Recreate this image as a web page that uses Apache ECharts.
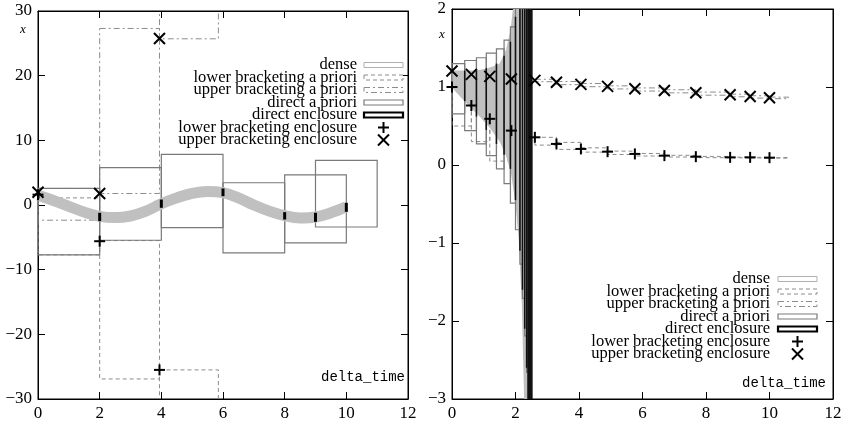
<!DOCTYPE html>
<html><head><meta charset="utf-8">
<script src="https://cdn.jsdelivr.net/npm/echarts@6/dist/echarts.min.js"></script>
<style>html,body{margin:0;padding:0;background:#fff}#c{width:846px;height:422px}</style>
</head><body><div id="c"></div>
<script>
// ================= DATA =================
const xTickMin = 0, xTickMax = 12, xTickStep = 2;
const leftYMin = -30, leftYMax = 30, leftYStep = 10;
const rightYMin = -3, rightYMax = 2, rightYStep = 1;
const legendNames = ['dense','lower bracketing a priori','upper bracketing a priori','direct a priori','direct enclosure','lower bracketing enclosure','upper bracketing enclosure'];
const axisName = 'x';
const timeName = 'delta_time';

// ---- left panel ----
const L_denseT = [0,0.5,1,1.5,2,2.5,3,3.5,4,4.5,5,5.5,6,6.5,7,7.5,8,8.5,9,9.5,10];
const L_denseX = [1.5,0.7,-0.2,-1.1,-1.75,-1.95,-1.7,-0.95,0.2,1.1,1.8,2.1,1.9,1.1,0.0,-0.95,-1.65,-2.0,-1.85,-1.2,-0.3];
// [t0, t1, low, high]
const L_directAP = [[0,2,-7.7,2.56],[2,4,-5.45,5.77],[4,6,-3.5,7.83],[6,8,-7.4,3.44],[8,10,-5.87,4.65],[9,11,-3.4,6.9]];
const L_lowerAP = [[0,2,-7.7,1.1],[2,3.94,-26.9,-5.5],[3.94,5.85,-40,-25.5]];
const L_upperAP = [[0,2,-2.35,2.56],[2,3.94,1.78,27.3],[3.94,5.85,25.7,40]];
const L_directEnc = [[0,0,1.0,2.0],[2,2,-2.5,-1.2],[4,4,-0.43,0.85],[6,6,1.36,2.56],[8,8,-2.25,-1.1],[9,9,-2.6,-1.2],[10,10,-1.05,0.34]];
const L_bracketT = [0,2,3.94];
const L_lowerEnc = [1.6,-5.6,-25.5];
const L_upperEnc = [1.98,1.78,25.75];

// ---- right panel ----
const R_denseT  = [0,0.3,0.6,0.9,1.2,1.5,1.7,1.85,2.0,2.1,2.2,2.3,2.4];
const R_denseLo = [0.99,0.86,0.73,0.61,0.47,0.3,0.12,-0.08,-0.5,-0.95,-1.8,-3.5,-3.5];
const R_denseHi = [1.21,1.21,1.21,1.22,1.25,1.3,1.47,1.75,2.3,2.6,3,3.5,3.5];
const R_directAP = [[0,0.4,0.655,1.30],[0.4,0.77,0.44,1.34],[0.77,1.08,0.27,1.375],[1.08,1.4,0.12,1.435],[1.4,1.64,-0.05,1.49],[1.64,1.84,-0.24,1.6],[1.84,2.0,-0.49,1.77],[2.0,2.14,-0.83,2.3],[2.14,2.22,-1.27,2.6],[2.22,2.29,-1.71,3],[2.29,2.35,-2.19,3.4],[2.35,2.37,-2.66,3.8]];
const R_directEnc = [[0.4,0.4,0.82,1.21],[0.77,0.77,0.62,1.21],[1.08,1.08,0.45,1.24],[1.4,1.4,0.27,1.3],[1.64,1.64,0.13,1.4],[1.84,1.84,-0.05,1.58],[2.0,2.0,-0.45,1.9],[2.14,2.14,-1.1,2.5],[2.22,2.22,-1.6,2.5],[2.29,2.29,-2.1,2.5],[2.35,2.35,-2.6,2.5],[2.37,2.54,-3.5,2.5]];
const R_lowerAP = [[0,0.61,0.5,0.98],[0.61,1.19,0.3,0.75],[1.19,1.87,0.05,0.58],[2.61,3.29,0.255,0.355],[3.29,4.06,0.2,0.29],[4.06,4.9,0.165,0.22],[4.9,5.76,0.135,0.178],[5.76,6.69,0.115,0.148],[6.69,7.68,0.102,0.124],[7.68,8.76,0.094,0.11],[8.76,9.39,0.092,0.1],[9.39,10.0,0.09,0.098],[10.0,10.6,0.088,0.095]];
const R_upperAP = [[2.61,3.29,1.068,1.099],[3.29,4.06,1.03,1.07],[4.06,4.9,1.004,1.045],[4.9,5.76,0.975,1.015],[5.76,6.69,0.948,0.988],[6.69,7.68,0.925,0.965],[7.68,8.76,0.895,0.935],[8.76,9.39,0.875,0.908],[9.39,10.0,0.858,0.888],[10.0,10.6,0.85,0.87]];
const R_bracketT = [0,0.61,1.19,1.87,2.61,3.29,4.06,4.90,5.76,6.69,7.68,8.76,9.39,10.0];
const R_upperEnc = [1.205,1.162,1.136,1.102,1.085,1.06,1.034,1.008,0.978,0.956,0.927,0.9,0.879,0.862];
const R_lowerEnc = [1.0,0.763,0.592,0.441,0.355,0.27,0.206,0.171,0.142,0.12,0.107,0.098,0.098,0.094];

// ================= STYLE =================
const SERIF = 'Liberation Serif';
const C_BOX = '#7a7a7a', C_AP = '#8c8c8c', C_DENSE = '#c0c0c0';
const DASH = [4,3], DASHDOT = [6,3,2,3];

const chart = echarts.init(document.getElementById('c'), null, {renderer:'canvas'});
const grids = [
  {left:38, top:11, width:370, height:388, show:true, borderColor:'#000', borderWidth:1, backgroundColor:'#fff'},
  {left:452, top:9, width:381, height:390, show:true, borderColor:'#000', borderWidth:1, backgroundColor:'#fff'}
];
const fmt = v => v < 0 ? '\u2212' + Math.abs(v) : String(v);
function xAx(gi, pos, show){
  return {type:'value', gridIndex:gi, min:xTickMin, max:xTickMax, interval:xTickStep, position:pos,
    axisLine:{show:true, onZero:false, lineStyle:{color:'#000', width:1}}, splitLine:{show:false},
    axisTick:{show:true, inside:true, length:7, lineStyle:{color:'#000'}},
    axisLabel:{show:show, color:'#000', fontFamily:SERIF, fontSize:17, margin:6, formatter:fmt}};
}
function yAx(gi, pos, show, mn, mx, st){
  return {type:'value', gridIndex:gi, min:mn, max:mx, interval:st, position:pos,
    axisLine:{show:true, onZero:false, lineStyle:{color:'#000', width:1}}, splitLine:{show:false},
    axisTick:{show:true, inside:true, length:7, lineStyle:{color:'#000'}},
    axisLabel:{show:show, color:'#000', fontFamily:SERIF, fontSize:17, margin:6, formatter:fmt}};
}
const xAxes = [xAx(0,'bottom',true), xAx(0,'top',false), xAx(1,'bottom',true), xAx(1,'top',false)];
const yAxes = [yAx(0,'left',true,leftYMin,leftYMax,leftYStep), yAx(0,'right',false,leftYMin,leftYMax,leftYStep),
               yAx(1,'left',true,rightYMin,rightYMax,rightYStep), yAx(1,'right',false,rightYMin,rightYMax,rightYStep)];

function boxSeries(panel, data, style, z){
  return {type:'custom', xAxisIndex:panel*2, yAxisIndex:panel*2, clip:true, z:z, silent:true,
    data:data,
    renderItem(params, api){
      const p0 = api.coord([api.value(0), api.value(3)]);
      const p1 = api.coord([api.value(1), api.value(2)]);
      return {type:'rect', shape:{x:p0[0], y:p0[1], width:p1[0]-p0[0], height:p1[1]-p0[1]},
        style:Object.assign({fill:'none'}, style)};
    }};
}
function encSeries(panel, data, z){
  return {type:'custom', xAxisIndex:panel*2, yAxisIndex:panel*2, clip:true, z:z, silent:true,
    data:data,
    renderItem(params, api){
      const p0 = api.coord([api.value(0), api.value(3)]);
      const p1 = api.coord([api.value(1), api.value(2)]);
      let x = p0[0], w = p1[0]-p0[0];
      if (w < 3){ x = (p0[0]+p1[0])/2 - 1.5; w = 3; }
      return {type:'rect', shape:{x:x, y:p0[1], width:w, height:p1[1]-p0[1]}, style:{fill:'#000'}};
    }};
}
function markerSeries(panel, ts, ys, kind, z){
  return {type:'custom', xAxisIndex:panel*2, yAxisIndex:panel*2, clip:false, z:z, silent:true,
    data:ts.map((t,i)=>[t, ys[i]]),
    renderItem(params, api){
      const p = api.coord([api.value(0), api.value(1)]);
      const s = 5.5, st = {stroke:'#000', lineWidth:2};
      const lines = kind === 'x'
        ? [[p[0]-s,p[1]-s,p[0]+s,p[1]+s],[p[0]-s,p[1]+s,p[0]+s,p[1]-s]]
        : [[p[0]-s,p[1],p[0]+s,p[1]],[p[0],p[1]-s,p[0],p[1]+s]];
      return {type:'group', children:lines.map(l=>({type:'line', shape:{x1:l[0],y1:l[1],x2:l[2],y2:l[3]}, style:st}))};
    }};
}
function densePoly(panel, ts, lo, hi, z){
  return {type:'custom', xAxisIndex:panel*2, yAxisIndex:panel*2, clip:true, z:z, silent:true,
    data:[[ts[0], lo[0]]],
    renderItem(params, api){
      const pts = [];
      for (let i=0;i<ts.length;i++) pts.push(api.coord([ts[i], hi[i]]));
      for (let i=ts.length-1;i>=0;i--) pts.push(api.coord([ts[i], lo[i]]));
      return {type:'polygon', shape:{points:pts}, style:{fill:C_DENSE, stroke:'none'}};
    }};
}

const series = [
  // left
  boxSeries(0, L_lowerAP, {stroke:C_AP, lineWidth:1, lineDash:DASH}, 2),
  boxSeries(0, L_upperAP, {stroke:C_AP, lineWidth:1, lineDash:DASHDOT}, 2),
  boxSeries(0, L_directAP, {stroke:C_BOX, lineWidth:1.2}, 3),
  {type:'line', xAxisIndex:0, yAxisIndex:0, data:L_denseT.map((t,i)=>[t, L_denseX[i]]), smooth:0.4,
   symbol:'none', lineStyle:{color:C_DENSE, width:11, cap:'butt'}, z:4, silent:true, clip:true},
  encSeries(0, L_directEnc, 5),
  markerSeries(0, L_bracketT, L_lowerEnc, '+', 6),
  markerSeries(0, L_bracketT, L_upperEnc, 'x', 6),
  // right
  boxSeries(1, R_lowerAP, {stroke:C_AP, lineWidth:1, lineDash:DASH}, 2),
  boxSeries(1, R_upperAP, {stroke:C_AP, lineWidth:1, lineDash:DASHDOT}, 2),
  densePoly(1, R_denseT, R_denseLo, R_denseHi, 3),
  boxSeries(1, R_directAP, {stroke:C_BOX, lineWidth:1.2}, 4),
  {type:'custom', xAxisIndex:2, yAxisIndex:2, clip:true, z:5, silent:true, data:R_directEnc,
   renderItem(params, api){
     const p0 = api.coord([api.value(0), api.value(3)]);
     const p1 = api.coord([api.value(1), api.value(2)]);
     let x = p0[0], w = p1[0]-p0[0];
     if (w < 1.5){ x = (p0[0]+p1[0])/2 - 0.75; w = 1.5; }
     return {type:'rect', shape:{x:x, y:p0[1], width:w, height:p1[1]-p0[1]}, style:{fill:'#111'}};
   }},
  markerSeries(1, R_bracketT, R_lowerEnc, '+', 6),
  markerSeries(1, R_bracketT, R_upperEnc, 'x', 6)
];

// ---- legend & labels as graphic text ----
function legendGraphic(textRight, top, sx0, sx1){
  const els = [];
  const styles = [
    {stroke:'#b0b0b0', lineWidth:1},
    {stroke:C_AP, lineWidth:1, lineDash:DASH},
    {stroke:C_AP, lineWidth:1, lineDash:DASHDOT},
    {stroke:C_BOX, lineWidth:1.2},
    {stroke:'#000', lineWidth:2.2}
  ];
  legendNames.forEach((name, i) => {
    const cy = top + i*12.5;
    els.push({type:'text', x:textRight, y:cy, z:50, style:{text:name, fill:'#000', font:'16.5px "Liberation Serif"', textAlign:'right', textVerticalAlign:'middle'}});
    if (i < 5){
      els.push({type:'rect', z:50, shape:{x:sx0, y:cy-2.5, width:sx1-sx0, height:5}, style:Object.assign({fill:'#fff'}, styles[i])});
    } else {
      const cx = (sx0+sx1)/2, s = 5.5;
      const lines = i === 5 ? [[cx-s,cy,cx+s,cy],[cx,cy-s,cx,cy+s]] : [[cx-s,cy-s,cx+s,cy+s],[cx-s,cy+s,cx+s,cy-s]];
      lines.forEach(l => els.push({type:'line', z:50, shape:{x1:l[0],y1:l[1],x2:l[2],y2:l[3]}, style:{stroke:'#000', lineWidth:2}}));
    }
  });
  return els;
}
const graphic = [].concat(
  legendGraphic(357, 65, 364, 403),
  legendGraphic(770, 279, 778, 817),
  [
    {type:'text', x:23, y:30, z:50, style:{text:axisName, fill:'#000', font:'italic 13px "Liberation Serif"', textAlign:'center', textVerticalAlign:'middle'}},
    {type:'text', x:442, y:35, z:50, style:{text:axisName, fill:'#000', font:'italic 13px "Liberation Serif"', textAlign:'center', textVerticalAlign:'middle'}},
    {type:'text', x:405, y:377, z:50, style:{text:timeName, fill:'#000', font:'14px "Liberation Mono"', textAlign:'right', textVerticalAlign:'middle'}},
    {type:'text', x:826, y:383, z:50, style:{text:timeName, fill:'#000', font:'14px "Liberation Mono"', textAlign:'right', textVerticalAlign:'middle'}}
  ]
);

chart.setOption({animation:false, backgroundColor:'#fff', grid:grids, xAxis:xAxes, yAxis:yAxes, series:series, graphic:graphic});
</script></body></html>
